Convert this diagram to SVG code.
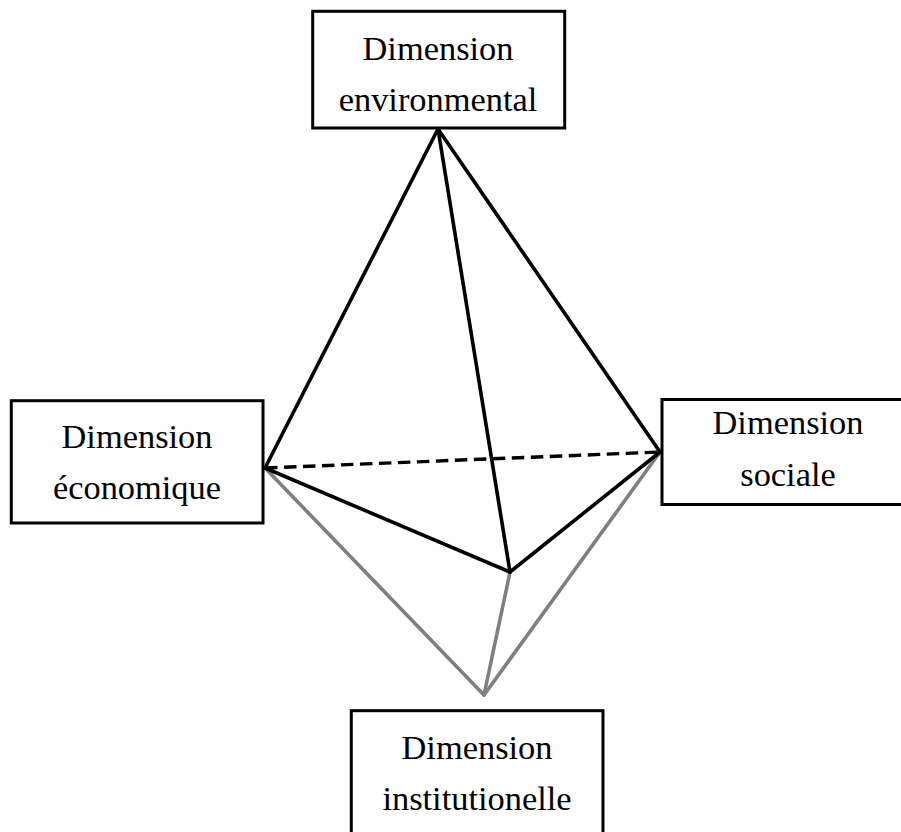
<svg xmlns="http://www.w3.org/2000/svg" width="901" height="832" viewBox="0 0 901 832">
<style>
.box{fill:#fff;stroke:#000;stroke-width:3}
text{font-family:"Liberation Serif","Times New Roman",serif;font-size:34.4px;fill:#000;text-anchor:middle}
.k{stroke:#000;stroke-width:3.6;fill:none;stroke-linecap:round}
.d{stroke:#000;stroke-width:3.4;fill:none;stroke-dasharray:12.5 6.5}
.g{stroke:#7f7f7f;stroke-width:3.6;fill:none;stroke-linecap:round}
</style>
<rect width="901" height="832" fill="#fff"/>
<g id="connectors">
<line class="g" x1="265" y1="468" x2="484" y2="695"/>
<line class="g" x1="660" y1="452" x2="484" y2="695"/>
<line class="g" x1="510" y1="572" x2="484" y2="695"/>
<line class="k" x1="438" y1="129" x2="265" y2="468"/>
<line class="k" x1="438" y1="129" x2="660" y2="452"/>
<line class="k" x1="438" y1="129" x2="510" y2="572"/>
<line class="k" x1="265" y1="468" x2="510" y2="572"/>
<line class="k" x1="660" y1="452" x2="510" y2="572"/>
<line class="d" x1="265" y1="468" x2="660" y2="452"/>
</g>
<g id="env"><rect class="box" x="312.7" y="11.3" width="252" height="116.7"/><text x="438" y="60">Dimension</text><text x="438" y="111">environmental</text></g>
<g id="eco"><rect class="box" x="11.3" y="400.7" width="251.7" height="122.3"/><text x="137" y="448">Dimension</text><text x="137" y="499">économique</text></g>
<g id="soc"><rect class="box" x="662" y="399.5" width="241" height="105"/><text x="788" y="434">Dimension</text><text x="788" y="486">sociale</text></g>
<g id="inst"><rect class="box" x="351.3" y="710.7" width="251.7" height="124"/><text x="477" y="759">Dimension</text><text x="477" y="810">institutionelle</text></g>
</svg>
